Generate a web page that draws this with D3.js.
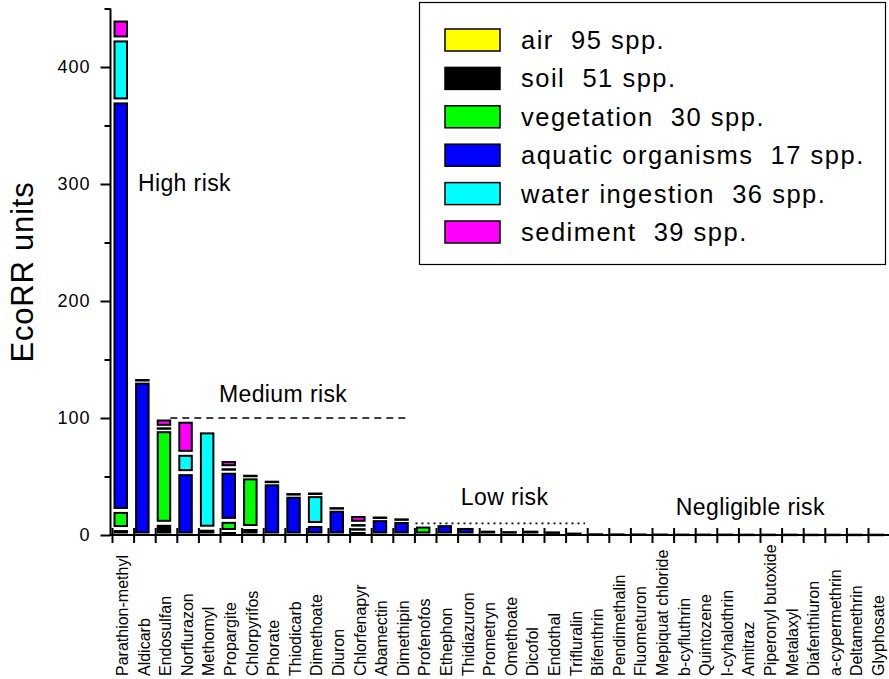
<!DOCTYPE html>
<html><head><meta charset="utf-8">
<script src="https://cdn.jsdelivr.net/npm/d3@7"></script>
<style>
body{margin:0;background:#fff}
svg{display:block;font-family:"Liberation Sans",Arial,sans-serif}
</style>
</head><body>
<svg id="chart" width="889" height="679"></svg>
<script>
const categories = ["Parathion-methyl","Aldicarb","Endosulfan","Norflurazon","Methomyl","Propargite","Chlorpyrifos","Phorate","Thiodicarb","Dimethoate","Diuron","Chlorfenapyr","Abamectin","Dimethipin","Profenofos","Ethephon","Thidiazuron","Prometryn","Omethoate","Dicofol","Endothal","Trifluralin","Bifenthrin","Pendimethalin","Fluometuron","Mepiquat chloride","b-cyfluthrin","Quintozene","l-cyhalothrin","Amitraz","Piperonyl butoxide","Metalaxyl","Diafenthiuron","a-cypermethrin","Deltamethrin","Glyphosate"];

const air        = [0,0,0,0,0,0,0,0,0,0,0,0,0,0,0,0,0,0,0,0,0,0,0,0,0,0,0,0,0,0,0,0,0,0,0,0];
const soil       = [5.5,0,10,0,5.8,3,6.4,0,0,0,0,3,0,0,0,0,0,0,0,0,0,0,0,0,0,0,0,0,0,0,0,0,0,0,0,0];
const vegetation = [15.5,0,80,0,0,9.5,43.3,0,0,0,0,3.5,0,0,8.5,0,0,0,0,0,0,0,0,0,0,0,0,0,0,0,0,0,0,0,0,0];
const aquatic    = [350,131.5,2,53.3,0,42,1.5,44.6,34,9,22,3.5,14,12.4,0,9.7,7.3,5,4.5,5,4,2,0.8,0.6,0.5,0.4,0.3,0.3,0.3,0.2,0.2,0.2,0.1,0.1,0.1,0.1];
const water      = [53,1.5,0,16.5,83.2,3,0,1.5,1.5,25.5,1.5,0,1.5,1.5,0,0,0,0,0,0,0,0,0,0,0,0,0,0,0,0,0,0,0,0,0,0];
const sediment   = [17,0,8,28.3,0,7,0,0,0,1.5,0,7.5,0,0,0,0,0,0,0,0,0,0,0,0,0,0,0,0,0,0,0,0,0,0,0,0];

const seriesKeys   = ["air","soil","vegetation","aquatic","water","sediment"];
const seriesLabels = ["air  95 spp.","soil  51 spp.","vegetation  30 spp.","aquatic organisms  17 spp.","water ingestion  36 spp.","sediment  39 spp."];
const seriesColors = ["#ffff00","#000000","#00ff00","#0000ff","#00ffff","#ff00ff"];
const seriesValues = [air, soil, vegetation, aquatic, water, sediment];

const yMajorTicks = [0,100,200,300,400];
const yMinorTicks = [50,150,250,350,450];

// risk thresholds: value, from/to position in category-band units
const riskLines = [
  {value:100, from:2.7, to:13.6, dash:"7,5", width:1.5},
  {value:10,  from:14.05, to:21.9, dash:"2,4", width:1.8}
];
const riskLabels = [
  {text:"High risk", pos:1.2, value:294},
  {text:"Medium risk", pos:4.95, value:114},
  {text:"Low risk", pos:16.15, value:26},
  {text:"Negligible risk", pos:26.1, value:17.3}
];

const svg = d3.select("#chart");
const x0 = 112, bw = 21.6;
const x = d3.scaleBand().domain(categories).range([x0, x0 + bw*categories.length]).padding(0);
const xi = d3.scaleLinear().domain([0, categories.length]).range([x0, x0 + bw*categories.length]);
const y = d3.scaleLinear().domain([0,450]).range([535, 535 - 450*1.17]);

const rows = categories.map((c,i) => {
  const r = {cat:c};
  seriesKeys.forEach((k,j) => r[k] = seriesValues[j][i]);
  return r;
});
const stack = d3.stack().keys(seriesKeys)(rows);

const inset = 2.5;
const barOff = 2.5, barW = 12.5;
stack.forEach((s, j) => {
  svg.append("g").selectAll("rect")
    .data(s.filter(d => d[1] - d[0] > 0))
    .join("rect")
    .attr("x", d => x(d.data.cat) + barOff)
    .attr("width", barW)
    .attr("y", d => {
      const top = y(d[1]), bot = y(d[0]);
      const h = bot - top;
      if (h - 2*inset >= 0.5) return top + inset;
      return (top + bot)/2 - 0.25;
    })
    .attr("height", d => {
      const h = y(d[0]) - y(d[1]);
      return Math.max(h - 2*inset, 0.5);
    })
    .attr("fill", seriesColors[j])
    .attr("stroke", "#000")
    .attr("stroke-width", 2);
});

riskLines.forEach(r => {
  svg.append("line")
    .attr("x1", xi(r.from)).attr("x2", xi(r.to))
    .attr("y1", y(r.value)).attr("y2", y(r.value))
    .attr("stroke", "#000").attr("stroke-width", r.width)
    .attr("stroke-dasharray", r.dash);
});
riskLabels.forEach(r => {
  svg.append("text").attr("x", xi(r.pos)).attr("y", y(r.value))
    .attr("font-size", 23).attr("letter-spacing", 0.4).attr("fill", "#000")
    .text(r.text);
});

// y axis
const yAxisG = svg.append("g").attr("transform", "translate(110.5,0)");
yAxisG.call(d3.axisLeft(y).tickValues(yMajorTicks).tickSize(10).tickPadding(10).tickFormat(d3.format("d")));
yAxisG.select(".domain").remove();
yAxisG.selectAll(".tick line").attr("stroke-width", 2);
yAxisG.selectAll(".tick text").attr("font-size", 18).attr("letter-spacing", 1)
  .attr("font-family", '"Liberation Sans",Arial,sans-serif').attr("fill", "#000");
const yMinorG = svg.append("g").attr("transform", "translate(110.5,0)");
yMinorG.call(d3.axisLeft(y).tickValues(yMinorTicks).tickSize(6).tickFormat(""));
yMinorG.select(".domain").remove();
yMinorG.selectAll(".tick line").attr("stroke-width", 2);
svg.append("line").attr("x1", 110.5).attr("x2", 110.5).attr("y1", y(0)+1).attr("y2", y(450))
  .attr("stroke", "#000").attr("stroke-width", 2);

// x axis
const xAxisG = svg.append("g").attr("transform", `translate(0,${y(0)})`);
xAxisG.call(d3.axisBottom(xi).tickValues(d3.range(categories.length + 1)).tickSize(8).tickFormat(""));
xAxisG.select(".domain").remove();
xAxisG.selectAll(".tick line").attr("y1", -7).attr("stroke-width", 2);
svg.append("line").attr("x1", 110).attr("x2", 889).attr("y1", y(0)).attr("y2", y(0))
  .attr("stroke", "#000").attr("stroke-width", 2);

// x labels
svg.append("g").selectAll("text").data(categories).join("text")
  .attr("transform", d => `translate(${x(d) + x.bandwidth()/2},676) rotate(-90)`)
  .attr("dy", "0.32em")
  .attr("font-size", 16)
  .text(d => d);

// y title
svg.append("text").attr("transform", "translate(33,272) rotate(-90)")
  .attr("text-anchor", "middle").attr("font-size", 31).attr("letter-spacing", 0.8)
  .text("EcoRR units");

// legend
const lg = svg.append("g");
lg.append("rect").attr("x", 419.5).attr("y", 2.5).attr("width", 466).attr("height", 262)
  .attr("fill", "#fff").attr("stroke", "#000").attr("stroke-width", 1.2);
const items = lg.selectAll("g.item").data(seriesLabels).join("g").attr("class","item")
  .attr("transform", (d,i) => `translate(0,${40 + i*38.4})`);
items.append("rect").attr("x", 445).attr("y", -11).attr("width", 55).attr("height", 22)
  .attr("fill", (d,i) => seriesColors[i]).attr("stroke", "#000").attr("stroke-width", 1.5);
items.append("text").attr("x", 521).attr("dy", "0.35em")
  .attr("font-size", 25.5).attr("letter-spacing", 1.5)
  .style("white-space", "pre")
  .text(d => d);
</script>
</body></html>
